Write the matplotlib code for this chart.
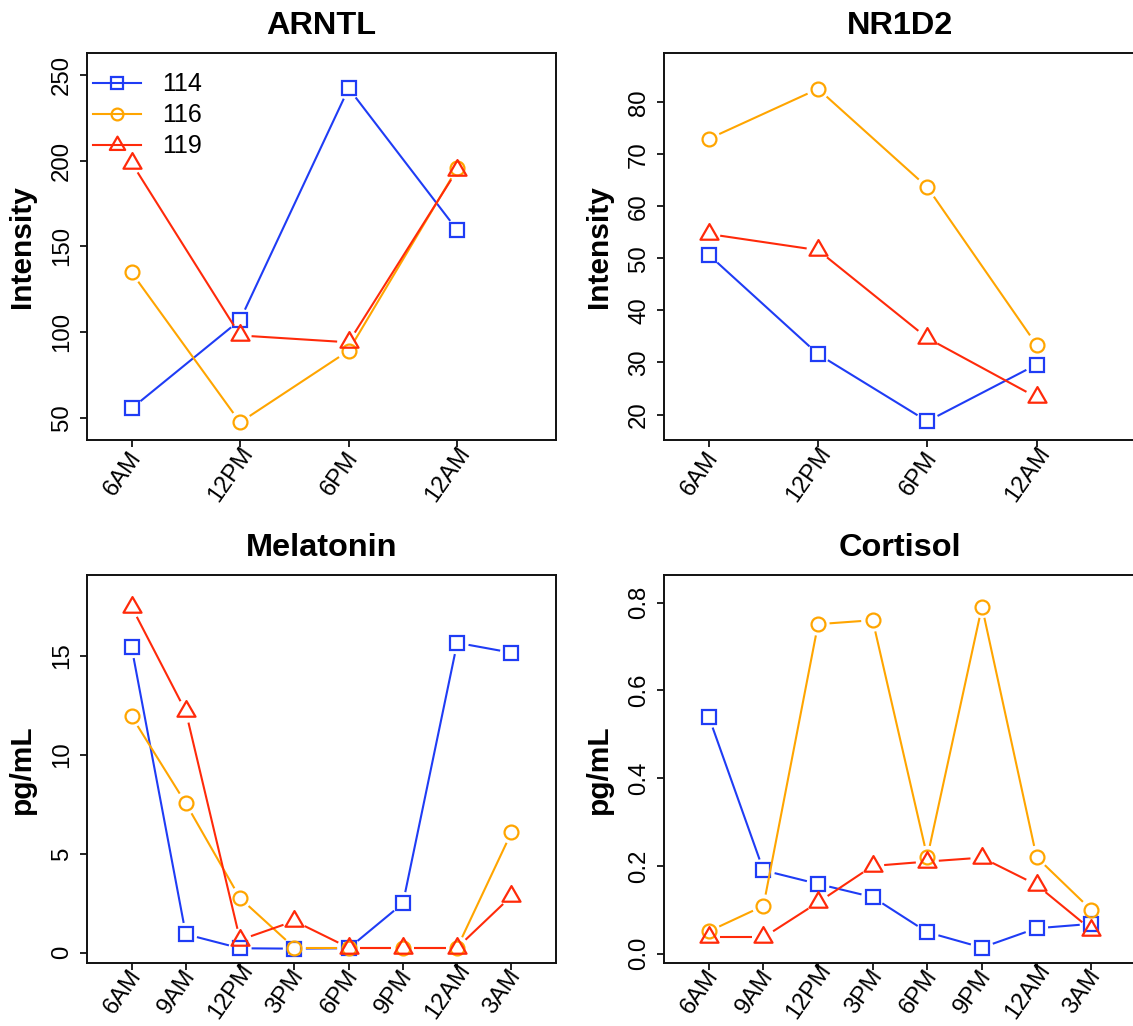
import numpy as np
import matplotlib
matplotlib.use("Agg")
import matplotlib.pyplot as plt
from matplotlib.path import Path
from matplotlib.lines import Line2D
from matplotlib.transforms import blended_transform_factory, ScaledTranslation

plt.rcParams['font.family'] = ['Liberation Sans', 'DejaVu Sans']

# ---------------- data ----------------
subjects = ["114", "116", "119"]

top_labels = ["6AM", "12PM", "6PM", "12AM"]
top_pos = [1, 3, 5, 7]
bottom_labels = ["6AM", "9AM", "12PM", "3PM", "6PM", "9PM", "12AM", "3AM"]
bottom_pos = [1, 2, 3, 4, 5, 6, 7, 8]

arntl_114 = [55.4, 107.0, 242.2, 159.5]
arntl_116 = [134.8, 47.3, 89.1, 195.5]
arntl_119 = [198.8, 98.0, 94.0, 194.5]

nr1d2_114 = [50.7, 31.6, 18.7, 29.6]
nr1d2_116 = [73.0, 82.6, 63.7, 33.4]
nr1d2_119 = [54.7, 51.6, 34.7, 23.3]

melatonin_114 = [15.47, 0.93, 0.22, 0.20, 0.22, 2.49, 15.67, 15.17]
melatonin_116 = [11.96, 7.55, 2.75, 0.25, 0.25, 0.25, 0.25, 6.08]
melatonin_119 = [17.50, 12.20, 0.64, 1.60, 0.25, 0.25, 0.25, 2.86]

cortisol_114 = [0.540, 0.190, 0.159, 0.129, 0.049, 0.014, 0.058, 0.068]
cortisol_116 = [0.051, 0.109, 0.751, 0.760, 0.220, 0.791, 0.220, 0.100]
cortisol_119 = [0.037, 0.037, 0.117, 0.200, 0.210, 0.219, 0.157, 0.055]

# ---------------- styles ----------------
colors = ['#1f3cf5', '#ffa500', '#ff2a0a']
tri = Path([(0, 1), (-0.866, -0.5), (0.866, -0.5), (0, 1)],
           [Path.MOVETO, Path.LINETO, Path.LINETO, Path.CLOSEPOLY])
markers = ['s', 'o', tri]
msizes = [9.4, 10.0, 15.0]
LW = 1.5
MEW = 1.6
GAP_PX = 11.5
TICK_FS = 17.3
XTICK_FS = 17.0
TITLE_FS = 23.4
LABEL_FS = 21.5
LEGEND_FS = 18

W, H = 1133, 1026
fig = plt.figure(figsize=(W / 100, H / 100), dpi=100)

def px_rect(left, top, right, bottom):
    return [left / W, 1 - bottom / H, (right - left) / W, (bottom - top) / H]

panels = [
    dict(rect=px_rect(87, 53, 556, 440), title="ARNTL", ylabel="Intensity",
         series=[arntl_114, arntl_116, arntl_119], pos=top_pos, labels=top_labels,
         ylim=(37.0, 262.8), yticks=[50, 100, 150, 200, 250], fmt="{:g}", legend=True, ldy=34),
    dict(rect=px_rect(664, 53, 1136, 440), title="NR1D2", ylabel="Intensity",
         series=[nr1d2_114, nr1d2_116, nr1d2_119], pos=top_pos, labels=top_labels,
         ylim=(15.1, 89.5), yticks=[20, 30, 40, 50, 60, 70, 80], fmt="{:g}", legend=False, ldy=34),
    dict(rect=px_rect(87, 575, 556, 962.5), title="Melatonin", ylabel="pg/mL",
         series=[melatonin_114, melatonin_116, melatonin_119], pos=bottom_pos, labels=bottom_labels,
         ylim=(-0.5, 19.1), yticks=[0, 5, 10, 15], fmt="{:g}", legend=False, ldy=29),
    dict(rect=px_rect(664, 575, 1136, 962.5), title="Cortisol", ylabel="pg/mL",
         series=[cortisol_114, cortisol_116, cortisol_119], pos=bottom_pos, labels=bottom_labels,
         ylim=(-0.02, 0.863), yticks=[0.0, 0.2, 0.4, 0.6, 0.8], fmt="{:.1f}", legend=False, ldy=29),
]

for p in panels:
    ax = fig.add_axes(p['rect'])
    ax.set_xlim(0.18, 8.82)
    ax.set_ylim(*p['ylim'])
    for s in ax.spines.values():
        s.set_linewidth(1.4)
        s.set_color('#111111')
    ax.set_yticks(p['yticks'])
    ax.set_yticklabels([p['fmt'].format(v) for v in p['yticks']],
                       rotation=90, va='center', ha='right', fontsize=TICK_FS)
    ax.set_xticks(p['pos'])
    ax.set_xticklabels([])
    ax.tick_params(axis='both', direction='out', length=5, width=1.3, color='#111111')
    ax.tick_params(axis='y', pad=5)
    # rotated x labels, centred below each tick (as R text(srt=55))
    tr = blended_transform_factory(ax.transData, ax.transAxes) + \
        ScaledTranslation(-9 / 100, -p['ldy'] / 100, fig.dpi_scale_trans)
    for xp, lab in zip(p['pos'], p['labels']):
        ax.text(xp, 0, lab, transform=tr, rotation=55, rotation_mode='anchor',
                ha='center', va='center', fontsize=XTICK_FS, clip_on=False)
    ax.set_title(p['title'], fontsize=TITLE_FS, fontweight='bold', pad=14)
    ax.set_ylabel(p['ylabel'], fontsize=LABEL_FS, fontweight='bold')
    ax.yaxis.set_label_coords(-0.109, 0.5)

    x = np.asarray(p['pos'], dtype=float)
    for yv, c, m, ms in zip(p['series'], colors, markers, msizes):
        y = np.asarray(yv, dtype=float)
        disp = ax.transData.transform(np.column_stack([x, y]))
        inv = ax.transData.inverted()
        for i in range(len(x) - 1):
            a, b = disp[i], disp[i + 1]
            d = b - a
            L = np.hypot(*d)
            if L <= 2 * GAP_PX:
                continue
            u = d / L
            seg = inv.transform(np.vstack([a + u * GAP_PX, b - u * GAP_PX]))
            ax.plot(seg[:, 0], seg[:, 1], color=c, lw=LW, solid_capstyle='butt')
        ax.plot(x, y, linestyle='none', marker=m, ms=ms, mfc='none', mec=c, mew=MEW)

    if p['legend']:
        handles = [Line2D([0], [0], color=c, lw=LW, marker=m, ms=ms * 0.85,
                          mfc='none', mec=c, mew=MEW)
                   for c, m, ms in zip(colors, markers, msizes)]
        ax.legend(handles, subjects, loc='upper left', bbox_to_anchor=(0.0128, 0.950),
                  frameon=False, fontsize=LEGEND_FS, handlelength=1.9, handletextpad=0.85,
                  labelspacing=0.28, borderpad=0, borderaxespad=0)

fig.savefig("out.png", dpi=100)
